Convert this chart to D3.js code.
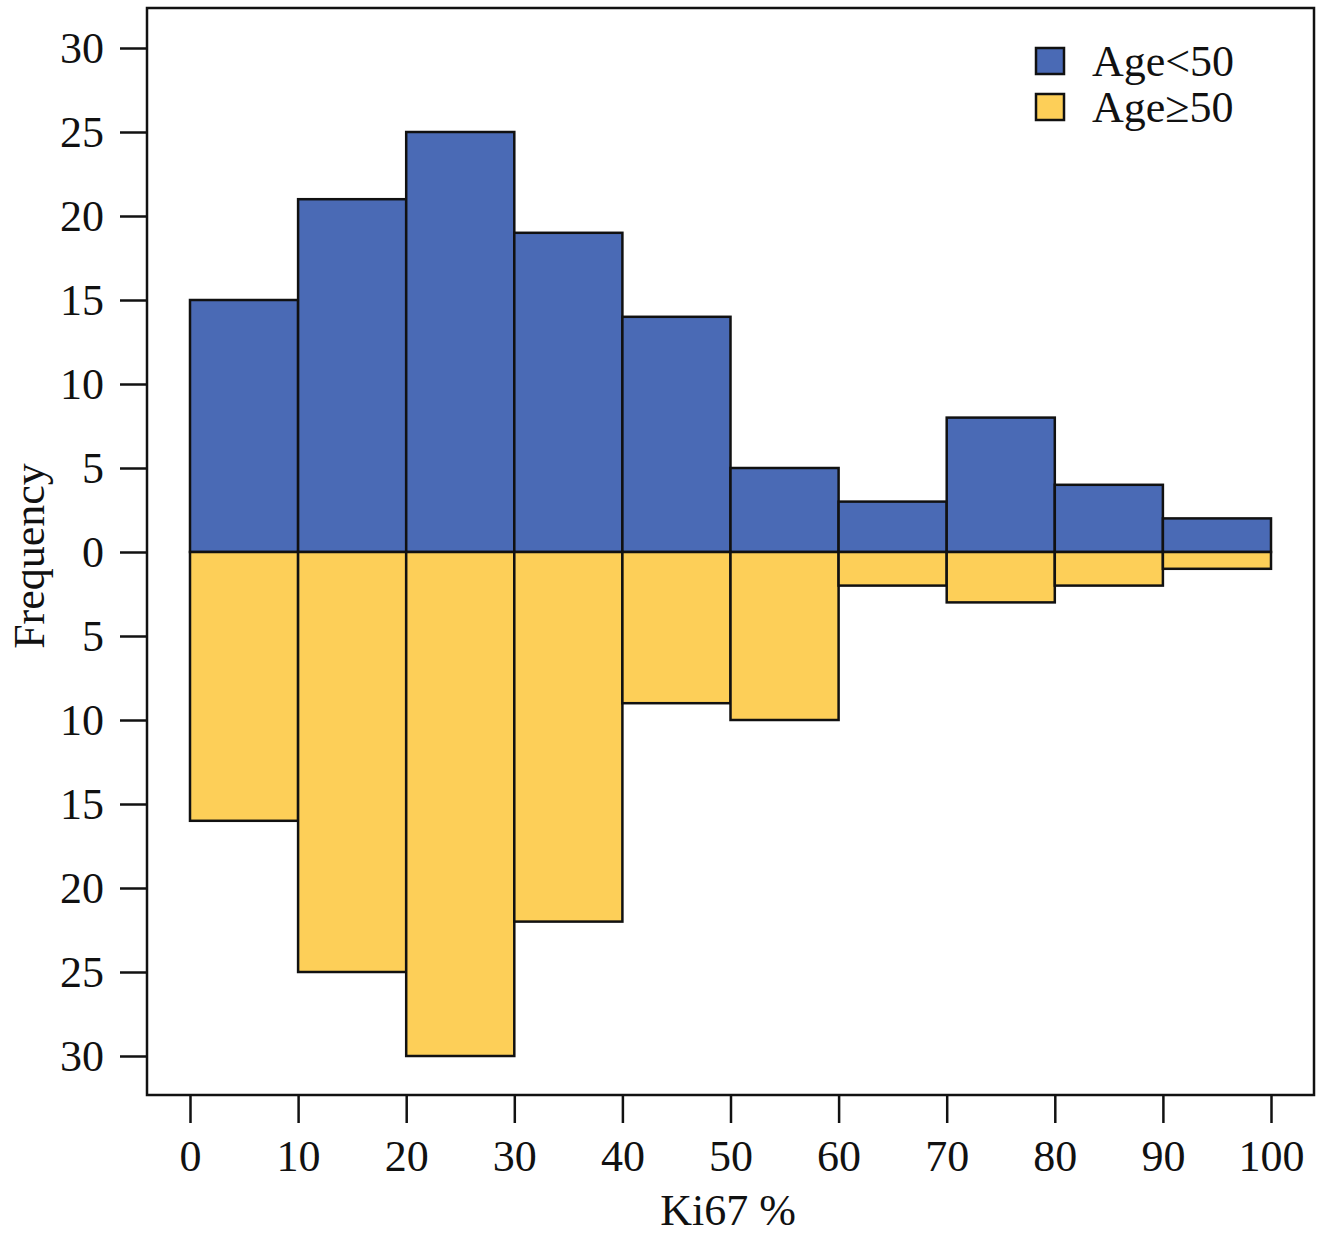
<!DOCTYPE html>
<html>
<head>
<meta charset="utf-8">
<script src="https://cdn.jsdelivr.net/npm/d3@7"></script>
<style>
body { margin: 0; background: #fff; }
svg text { font-family: "Liberation Serif", "Times New Roman", serif; fill: #111; }
</style>
</head>
<body>
<svg id="chart" width="1325" height="1234"></svg>
<script>
const binStarts = [0, 10, 20, 30, 40, 50, 60, 70, 80, 90];
const binWidth = 10;
const youngCounts = [15, 21, 25, 19, 14, 5, 3, 8, 4, 2];
const oldCounts = [16, 25, 30, 22, 9, 10, 2, 3, 2, 1];
const xTicks = [0, 10, 20, 30, 40, 50, 60, 70, 80, 90, 100];
const yTicks = [30, 25, 20, 15, 10, 5, 0, -5, -10, -15, -20, -25, -30];
const seriesNames = ["Age<50", "Age\u226550"];
const seriesColors = ["#4A6AB5", "#FDCF58"];

const svg = d3.select("#chart");
const frame = {left: 147, right: 1314, top: 8, bottom: 1095};

const x = d3.scaleLinear().domain([0, 100]).range([190, 1271]);
const y = d3.scaleLinear().domain([-30, 30]).range([1056, 48]);

// bars
const g = svg.append("g");
g.selectAll("rect.young").data(binStarts).join("rect")
  .attr("x", (d) => x(d))
  .attr("width", (d) => x(d + binWidth) - x(d))
  .attr("y", (d, i) => y(youngCounts[i]))
  .attr("height", (d, i) => y(0) - y(youngCounts[i]))
  .attr("fill", seriesColors[0]).attr("stroke", "#111").attr("stroke-width", 2.5);
g.selectAll("rect.old").data(binStarts).join("rect")
  .attr("x", (d) => x(d))
  .attr("width", (d) => x(d + binWidth) - x(d))
  .attr("y", y(0))
  .attr("height", (d, i) => y(-oldCounts[i]) - y(0))
  .attr("fill", seriesColors[1]).attr("stroke", "#111").attr("stroke-width", 2.5);

// frame
svg.append("rect")
  .attr("x", frame.left).attr("y", frame.top)
  .attr("width", frame.right - frame.left).attr("height", frame.bottom - frame.top)
  .attr("fill", "none").attr("stroke", "#111").attr("stroke-width", 2.5);

// y axis
const yAxis = d3.axisLeft(y).tickValues(yTicks).tickSize(27).tickPadding(16)
  .tickFormat((d) => Math.abs(d));
const ya = svg.append("g").attr("transform", `translate(${frame.left},0)`).call(yAxis);
ya.select(".domain").remove();
ya.selectAll(".tick line").attr("stroke", "#111").attr("stroke-width", 2.5);
ya.selectAll(".tick text").attr("font-size", 44).attr("fill", "#111");

// x axis
const xAxis = d3.axisBottom(x).tickValues(xTicks).tickSize(28).tickPadding(17);
const xa = svg.append("g").attr("transform", `translate(0,${frame.bottom})`).call(xAxis);
xa.select(".domain").remove();
xa.selectAll(".tick line").attr("stroke", "#111").attr("stroke-width", 2.5);
xa.selectAll(".tick text").attr("font-size", 44).attr("fill", "#111");

// axis titles
svg.append("text").attr("x", 728).attr("y", 1225).attr("text-anchor", "middle")
  .attr("font-size", 44).text("Ki67 %");
svg.append("text").attr("transform", "translate(44,556) rotate(-90)")
  .attr("text-anchor", "middle").attr("font-size", 44).text("Frequency");

// legend
const leg = svg.append("g");
seriesNames.forEach((name, i) => {
  leg.append("rect").attr("x", 1036).attr("y", 48 + i * 46).attr("width", 28).attr("height", 26)
    .attr("fill", seriesColors[i]).attr("stroke", "#111").attr("stroke-width", 2.5);
  leg.append("text").attr("x", 1092).attr("y", 76 + i * 46)
    .attr("font-size", 44).text(name);
});
</script>
</body>
</html>
